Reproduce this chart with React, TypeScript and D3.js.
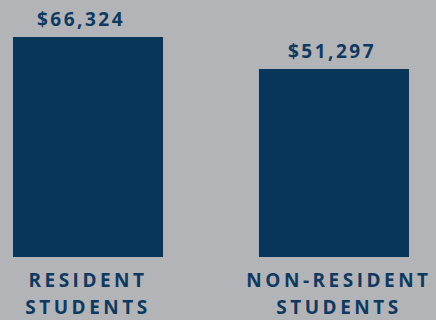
import React from "react";
import * as d3 from "d3";

const categories = ["RESIDENT|STUDENTS", "NON-RESIDENT|STUDENTS"];
const values = [66324, 51297];
const valueLabels = ["$66,324", "$51,297"];

const W = 436;
const H = 320;
const BG = "#b3b4b8";
const BAR = "#08365b";
const TXT = "#10395f";

export default function App() {
  const x = d3
    .scaleBand<string>()
    .domain(categories)
    .range([13, 409])
    .paddingInner(0.39)
    .paddingOuter(0);
  const y = d3.scaleLinear().domain([-37000, 66324]).range([257, 37]);
  const labelDx = [-7, -2];
  const font = "'Open Sans', 'DejaVu Sans', sans-serif";

  return (
    <svg
      width={W}
      height={H}
      style={{ position: "fixed", left: 0, top: 0, display: "block" }}
    >
      <rect width={W} height={H} fill={BG} />
      {categories.map((c, i) => {
        const bx = x(c)!;
        const bw = x.bandwidth();
        const cx = bx + bw / 2;
        const lines = c.split("|");
        return (
          <g key={c}>
            <rect x={bx} y={y(values[i])} width={bw} height={y(-37000) - y(values[i])} fill={BAR} />
            <text
              x={cx + labelDx[i]}
              y={y(values[i]) - 11}
              textAnchor="middle"
              fontFamily={font}
              fontWeight={700}
              fontSize={19}
              letterSpacing={2.5}
              fill={TXT}
            >
              {valueLabels[i]}
            </text>
            {lines.map((ln, j) => (
              <text
                key={j}
                x={cx + (i === 1 ? 5 : 0)}
                y={287 + j * 27}
                textAnchor="middle"
                fontFamily={font}
                fontWeight={700}
                fontSize={19}
                letterSpacing={3.5}
                fill={TXT}
              >
                {ln}
              </text>
            ))}
          </g>
        );
      })}
    </svg>
  );
}
